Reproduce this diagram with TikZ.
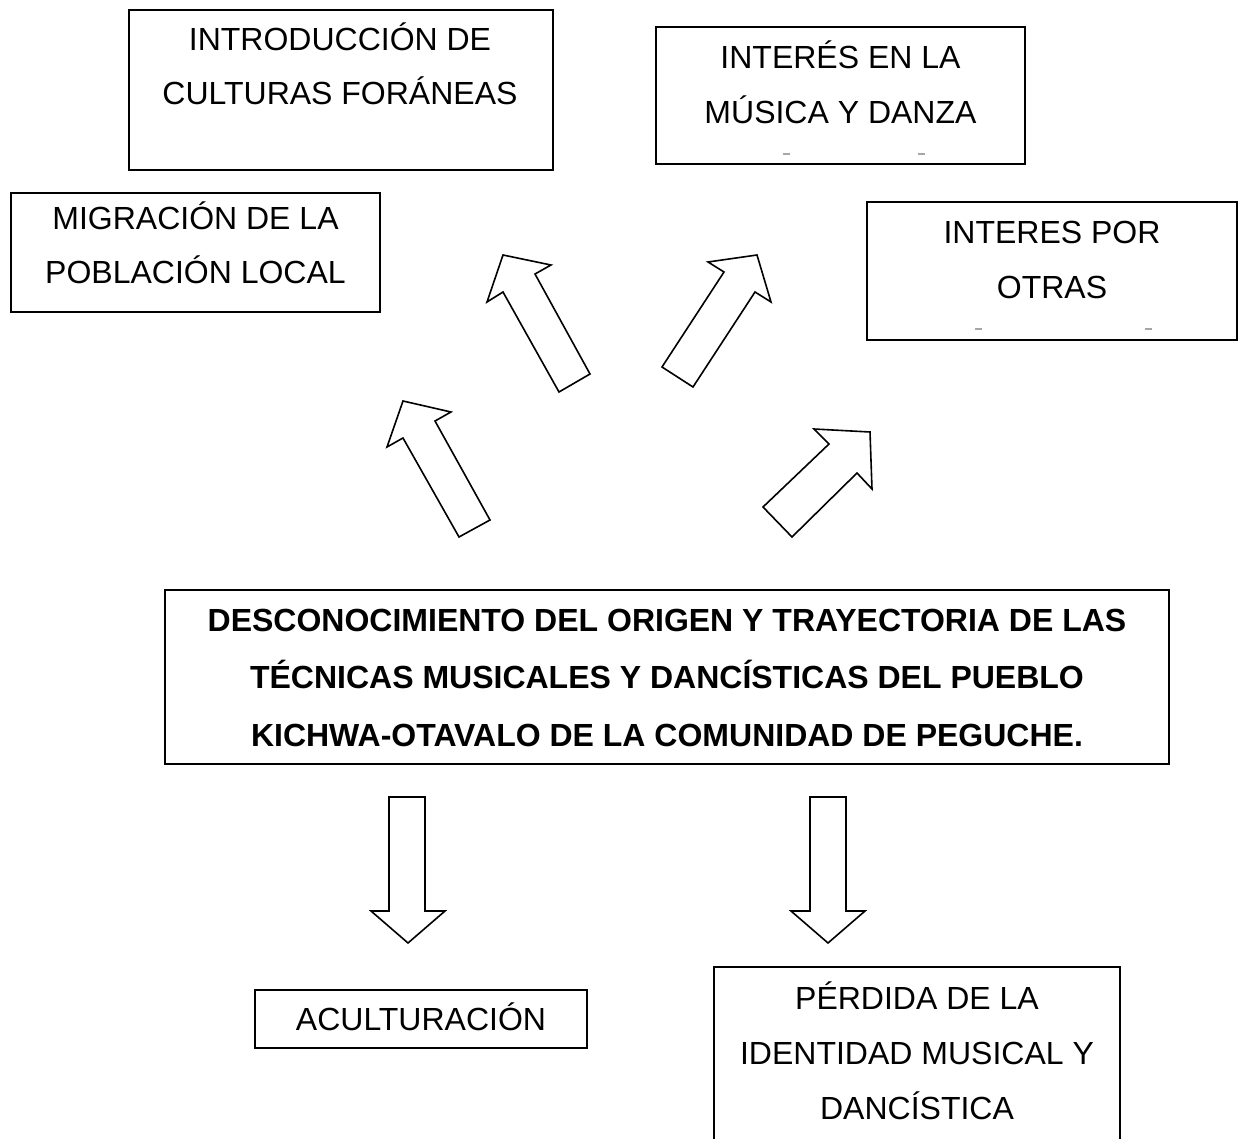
\documentclass[tikz,border=0pt]{standalone}
\usepackage{fontspec}
\setmainfont{Liberation Sans}
\begin{document}
\begin{tikzpicture}[x=1pt,y=-1pt,
  boxnode/.style={draw=black, line width=1.6pt, inner sep=0pt},
  lbl/.style={anchor=base, inner sep=0pt, font=\fontsize{32}{38}\selectfont},
  blbl/.style={anchor=base, inner sep=0pt, font=\fontsize{32}{38}\selectfont\bfseries},
  blockarrow/.style={draw=black, line width=1.6pt, line join=miter, fill=white},
  tickmark/.style={draw=gray!70, line width=1.5pt}]
\useasboundingbox (0,0) rectangle (1245,1139);
\fill[white] (0,0) rectangle (1245,1139);

% boxes
\node[boxnode, minimum width=424pt, minimum height=160pt] (intro) at (341,90) {};
\node[boxnode, minimum width=369pt, minimum height=137pt] (musica) at (840.5,95.5) {};
\node[boxnode, minimum width=369pt, minimum height=119pt] (migra) at (195.5,252.5) {};
\node[boxnode, minimum width=370pt, minimum height=138pt] (otras) at (1052,271) {};
\node[boxnode, minimum width=1004pt, minimum height=174pt] (main) at (667,677) {};
\node[boxnode, minimum width=332pt, minimum height=58pt] (acult) at (421,1019) {};
\node[boxnode, minimum width=406pt, minimum height=200pt] (perdida) at (917,1067) {};

% texts
\node[lbl] (t1a) at (340,50.5) {INTRODUCCIÓN DE};
\node[lbl] (t1b) at (340,105) {CULTURAS FORÁNEAS};
\node[lbl] (t2a) at (840.5,68.5) {INTERÉS EN LA};
\node[lbl] (t2b) at (840.5,123.5) {MÚSICA Y DANZA};
\node[lbl] (t3a) at (195.5,229.5) {MIGRACIÓN DE LA};
\node[lbl] (t3b) at (195.5,284) {POBLACIÓN LOCAL};
\node[lbl] (t4a) at (1052,243.5) {INTERES POR};
\node[lbl] (t4b) at (1052,298.5) {OTRAS};
\node[blbl] (t5a) at (667,631) {DESCONOCIMIENTO DEL ORIGEN Y TRAYECTORIA DE LAS};
\node[blbl] (t5b) at (667,688.5) {TÉCNICAS MUSICALES Y DANCÍSTICAS DEL PUEBLO};
\node[blbl] (t5c) at (667,746) {KICHWA-OTAVALO DE LA COMUNIDAD DE PEGUCHE.};
\node[lbl] (t6) at (421,1030) {ACULTURACIÓN};
\node[lbl] (t7a) at (917,1009) {PÉRDIDA DE LA};
\node[lbl] (t7b) at (917,1064) {IDENTIDAD MUSICAL Y};
\node[lbl] (t7c) at (917,1119) {DANCÍSTICA};

% small marks
\draw[tickmark] (783,154) -- (790,154);
\draw[tickmark] (918,154) -- (925,154);
\draw[tickmark] (975,329) -- (982,329);
\draw[tickmark] (1145,329) -- (1152,329);

% block arrows (upward)
\draw[blockarrow] (503,255) -- (551,265) -- (535,274) -- (590,374) -- (559,392) -- (503,292) -- (487,302) -- cycle;
\draw[blockarrow] (403,401) -- (451,412) -- (435,421) -- (490,520) -- (459,537) -- (403,438) -- (387,447) -- cycle;
\draw[blockarrow] (757,255) -- (771,302) -- (755,292) -- (693,387) -- (662,367) -- (724,272) -- (708,262) -- cycle;
\draw[blockarrow] (870,432) -- (872,489) -- (857,473) -- (792,537) -- (763,507) -- (829,444) -- (814,429) -- cycle;

% block arrows (downward)
\draw[blockarrow] (389,797) -- (425,797) -- (425,911) -- (445,911) -- (408,943) -- (371,911) -- (389,911) -- cycle;
\draw[blockarrow] (810,797) -- (846,797) -- (846,911) -- (865,911) -- (828,943) -- (791,911) -- (810,911) -- cycle;
\end{tikzpicture}
\end{document}
